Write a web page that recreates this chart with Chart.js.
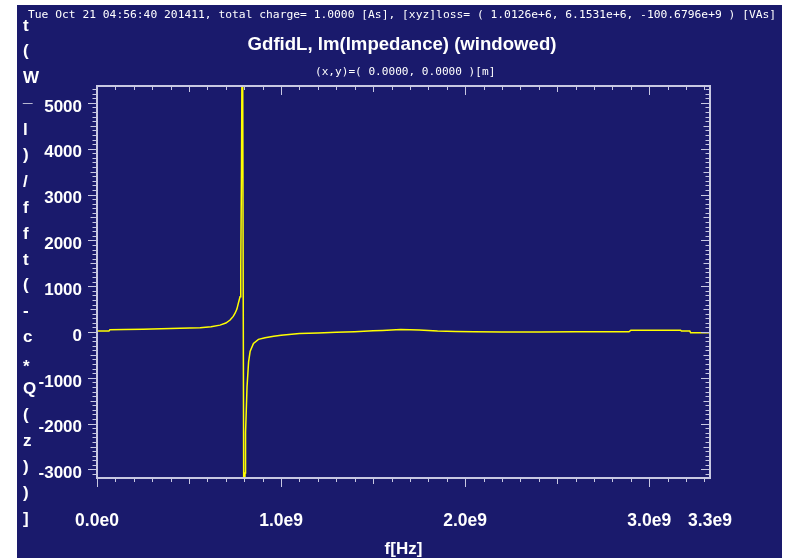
<!DOCTYPE html>
<html>
<head>
<meta charset="utf-8">
<script src="https://cdn.jsdelivr.net/npm/chart.js@4.4.1/dist/chart.umd.min.js"></script>
<style>
  html, body { margin: 0; padding: 0; background: #ffffff; }
  canvas { display: block; }
</style>
</head>
<body>
<canvas id="c" width="788" height="558"></canvas>
<script>
// Imaginary part of the longitudinal impedance vs. frequency
const freqHz = [
  0, 0.065e9, 0.07e9, 0.15e9, 0.25e9, 0.35e9, 0.45e9, 0.56e9, 0.62e9, 0.668e9,
  0.70e9, 0.723e9, 0.74e9, 0.75e9, 0.76e9, 0.768e9, 0.777e9, 0.780e9, 0.782e9, 0.785e9,
  0.790e9, 0.7985e9, 0.804e9, 0.807e9, 0.815e9, 0.8235e9, 0.832e9, 0.85e9, 0.877e9, 0.913e9,
  0.96e9, 1.0e9, 1.1e9, 1.2e9, 1.3e9, 1.4e9, 1.5e9, 1.55e9, 1.65e9, 1.75e9,
  1.85e9, 1.95e9, 2.05e9, 2.2e9, 2.4e9, 2.6e9, 2.89e9, 2.9e9, 3.17e9, 3.175e9,
  3.22e9, 3.225e9, 3.33e9
];
const imZ = [
  20, 20, 50, 55, 62, 70, 80, 94, 115, 150,
  195, 262, 340, 410, 500, 630, 770, 1000, 1450, 3600,
  8000, -6000, -3077, -2200, -1200, -650, -420, -250, -160, -125,
  -95, -70, -35, -20, -8, 5, 25, 35, 55, 45,
  20, 10, 5, 0, 0, 3, 5, 40, 40, 20,
  20, -15, -15
];

const xTickValues = [0, 1e9, 2e9, 3e9, 3.33e9];
const xTickLabels = ['0.0e0', '1.0e9', '2.0e9', '3.0e9', '3.3e9'];
const yTickValues = [-3000, -2000, -1000, 0, 1000, 2000, 3000, 4000, 5000];
const yTickLabels = ['-3000', '-2000', '-1000', '0', '1000', '2000', '3000', '4000', '5000'];
const yTitleChars = ['t', '(', 'W', '_', 'l', ')', '/', 'f', 'f', 't', '(', '-', 'c', '*', 'Q', '(', 'z', ')', ')', ']'];

const headerText = 'Tue Oct 21 04:56:40 201411, total charge= 1.0000 [As], [xyz]loss= ( 1.0126e+6, 6.1531e+6, -100.6796e+9 ) [VAs]';
const titleText = 'GdfidL, Im(Impedance) (windowed)';
const subtitleText = '(x,y)=( 0.0000, 0.0000 )[m]';
const xAxisTitle = 'f[Hz]';

const BG = '#1a1a6c';
const AXIS = '#c8c8e2';
const TEXT = '#ffffff';
const SANS = '"Liberation Sans", Arial, sans-serif';
const MONO = '"DejaVu Sans Mono", monospace';

const decorations = {
  id: 'decorations',
  beforeDraw(chart) {
    const ctx = chart.ctx;
    ctx.save();
    ctx.fillStyle = '#ffffff';
    ctx.fillRect(0, 0, chart.width, chart.height);
    ctx.fillStyle = BG;
    ctx.fillRect(17, 5, 765, chart.height - 5);

    ctx.fillStyle = TEXT;
    // run header
    ctx.font = '11.3px ' + MONO;
    ctx.textBaseline = 'middle';
    ctx.textAlign = 'left';
    ctx.fillText(headerText, 28, 15);
    // title
    ctx.font = 'bold 18.6px ' + SANS;
    ctx.textAlign = 'center';
    ctx.fillText(titleText, 402, 45);
    // probe position
    ctx.font = '11.1px ' + MONO;
    ctx.textAlign = 'left';
    ctx.fillText(subtitleText, 315, 72);

    // stacked y-axis title
    ctx.font = 'bold 17px ' + SANS;
    ctx.textAlign = 'left';
    ctx.textBaseline = 'alphabetic';
    yTitleChars.forEach((ch, i) => {
      const cy = 25 + i * 26.05;
      const m = ctx.measureText(ch);
      const base = cy + (m.actualBoundingBoxAscent - m.actualBoundingBoxDescent) / 2;
      ctx.fillText(ch, 23, base);
    });

    // x-axis title
    const area = chart.chartArea;
    ctx.textAlign = 'center';
    ctx.textBaseline = 'middle';
    ctx.fillText(xAxisTitle, (area.left + area.right) / 2, 549);
    ctx.restore();
  },
  afterDraw(chart) {
    const ctx = chart.ctx;
    const { left, right, top, bottom } = chart.chartArea;
    const xs = chart.scales.x;
    const ys = chart.scales.y;
    ctx.save();
    ctx.strokeStyle = AXIS;
    ctx.lineWidth = 2;
    ctx.strokeRect(left, top, right - left, bottom - top);

    ctx.lineWidth = 1;
    ctx.beginPath();
    // frequency ticks every 0.1 GHz, hanging below both horizontal frame lines
    for (let k = 0; k * 1e8 <= xs.max + 1; k++) {
      const px = Math.round(xs.getPixelForValue(k * 1e8)) + 0.5;
      const len = k % 10 === 0 ? 9 : (k % 5 === 0 ? 6 : 4);
      ctx.moveTo(px, bottom); ctx.lineTo(px, bottom + len);
      ctx.moveTo(px, top); ctx.lineTo(px, top + len);
    }
    // value ticks every 100, pointing left on both vertical frame lines
    for (let v = Math.ceil(ys.min / 100) * 100; v <= ys.max; v += 100) {
      const py = Math.round(ys.getPixelForValue(v)) + 0.5;
      const len = v % 1000 === 0 ? 9 : (v % 500 === 0 ? 6.5 : 4.5);
      ctx.moveTo(left - len, py); ctx.lineTo(left, py);
      ctx.moveTo(right - len, py); ctx.lineTo(right, py);
    }
    ctx.stroke();
    ctx.restore();
  }
};

new Chart(document.getElementById('c'), {
  type: 'line',
  data: {
    datasets: [{
      data: freqHz.map((f, i) => ({ x: f, y: imZ[i] })),
      borderColor: '#ffff00',
      borderWidth: 1.5,
      pointRadius: 0,
      tension: 0,
      clip: 0
    }]
  },
  options: {
    responsive: false,
    animation: false,
    devicePixelRatio: 1,
    layout: { padding: { left: 0, top: 86, right: 78, bottom: 0 } },
    plugins: { legend: { display: false }, tooltip: { enabled: false }, title: { display: false } },
    scales: {
      x: {
        type: 'linear',
        min: 0,
        max: 3.33e9,
        grid: { display: false, drawTicks: false },
        border: { display: false },
        afterBuildTicks: (s) => { s.ticks = xTickValues.map(v => ({ value: v })); },
        afterFit: (s) => { s.height = 80; },
        ticks: {
          autoSkip: false,
          maxRotation: 0,
          padding: 33,
          color: TEXT,
          font: { family: SANS, size: 17.5, weight: 'bold' },
          callback: (value, index) => xTickLabels[index]
        }
      },
      y: {
        type: 'linear',
        min: -3186,
        max: 5368,
        grid: { display: false, drawTicks: false },
        border: { display: false },
        afterBuildTicks: (s) => { s.ticks = yTickValues.map(v => ({ value: v })); },
        afterFit: (s) => { s.width = 97; },
        ticks: {
          autoSkip: false,
          padding: 15,
          labelOffset: 4,
          color: TEXT,
          font: { family: SANS, size: 17, weight: 'bold' },
          callback: (value, index) => yTickLabels[index]
        }
      }
    }
  },
  plugins: [decorations]
});
</script>
</body>
</html>
